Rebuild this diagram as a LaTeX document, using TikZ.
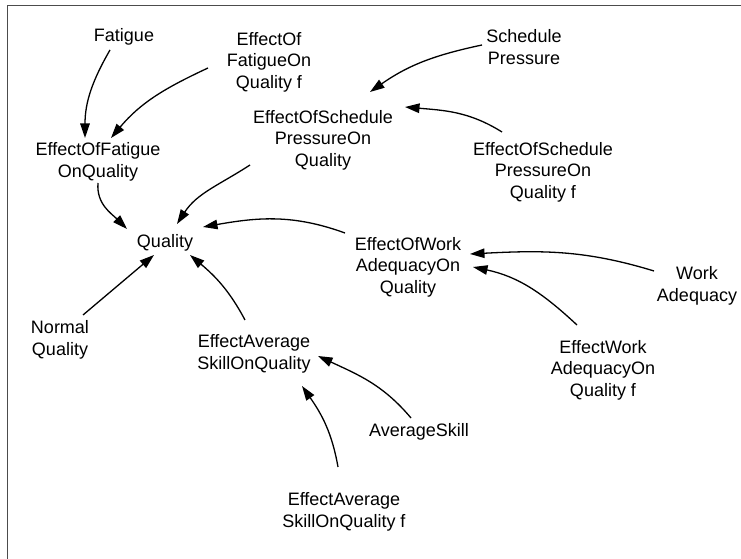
\documentclass[tikz,border=0pt]{standalone}
\usepackage{fontspec}
\setmainfont{Liberation Sans}
\usetikzlibrary{arrows.meta}

\begin{document}
\begin{tikzpicture}[x=1pt, y=1pt,
    every node/.style={align=center, inner sep=0pt, font=\fontsize{18}{21.5}\selectfont},
    link/.style={-{Triangle[length=14.5pt, width=9.5pt]}, line width=1.3pt},
    frame/.style={draw=black!70, line width=1.8pt}
]
    \useasboundingbox (0,0) rectangle (741,559);
    \draw[frame] (7.5,0) -- (7.5,553.5) -- (741,553.5);

    \node (fat) at (124,522) {Fatigue};
    \node (effFatF) at (269,497) {EffectOf\\FatigueOn\\Quality f};
    \node (effFat) at (98,397) {EffectOfFatigue\\OnQuality};
    \node (quality) at (165,316) {Quality};
    \node (effSch) at (323,419) {EffectOfSchedule\\PressureOn\\Quality};
    \node (schP) at (524,512) {Schedule\\Pressure};
    \node (effSchF) at (543,387) {EffectOfSchedule\\PressureOn\\Quality f};
    \node (effWork) at (408,292) {EffectOfWork\\AdequacyOn\\Quality};
    \node (workA) at (697,273) {Work\\Adequacy};
    \node (effWorkF) at (603,189) {EffectWork\\AdequacyOn\\Quality f};
    \node (normQ) at (60,219) {Normal\\Quality};
    \node (effSkill) at (254,205) {EffectAverage\\SkillOnQuality};
    \node (avgSkill) at (419,127) {AverageSkill};
    \node (effSkillF) at (344,47) {EffectAverage\\SkillOnQuality f};

    \draw[link] ([shift={(-14,-13)}]fat.center) to[out=240, in=90] ([shift={(-13,24)}]effFat.center);
    \draw[link] ([shift={(-61,-6)}]effFatF.center) to[out=205, in=50] ([shift={(13,24)}]effFat.center);
    \draw[link] ([shift={(0,-21)}]effFat.center) to[out=265, in=135] ([shift={(-38,14)}]quality.center);
    \draw[link] ([shift={(-73,-25)}]effSch.center) to[out=213, in=57] ([shift={(12,19)}]quality.center);
    \draw[link] ([shift={(-42,2)}]schP.center) to[out=192, in=35] ([shift={(47,48)}]effSch.center);
    \draw[link] ([shift={(-41,40)}]effSchF.center) to[out=148, in=-5] ([shift={(82,33)}]effSch.center);
    \draw[link] ([shift={(-63,34)}]effWork.center) to[out=160, in=10] ([shift={(38,16)}]quality.center);
    \draw[link] ([shift={(-43,15)}]workA.center) to[out=163, in=3] ([shift={(62,13)}]effWork.center);
    \draw[link] ([shift={(-26,45)}]effWorkF.center) to[out=137, in=-12] ([shift={(65,0)}]effWork.center);
    \draw[link] ([shift={(23,25)}]normQ.center) -- ([shift={(-11,-12)}]quality.center);
    \draw[link] ([shift={(-9,34)}]effSkill.center) to[out=118, in=-40] ([shift={(25,-12)}]quality.center);
    \draw[link] ([shift={(-8,14)}]avgSkill.center) to[out=130, in=-25] ([shift={(64,-2)}]effSkill.center);
    \draw[link] ([shift={(-6,45)}]effSkillF.center) to[out=100, in=-55] ([shift={(48,-32)}]effSkill.center);
\end{tikzpicture}
\end{document}
